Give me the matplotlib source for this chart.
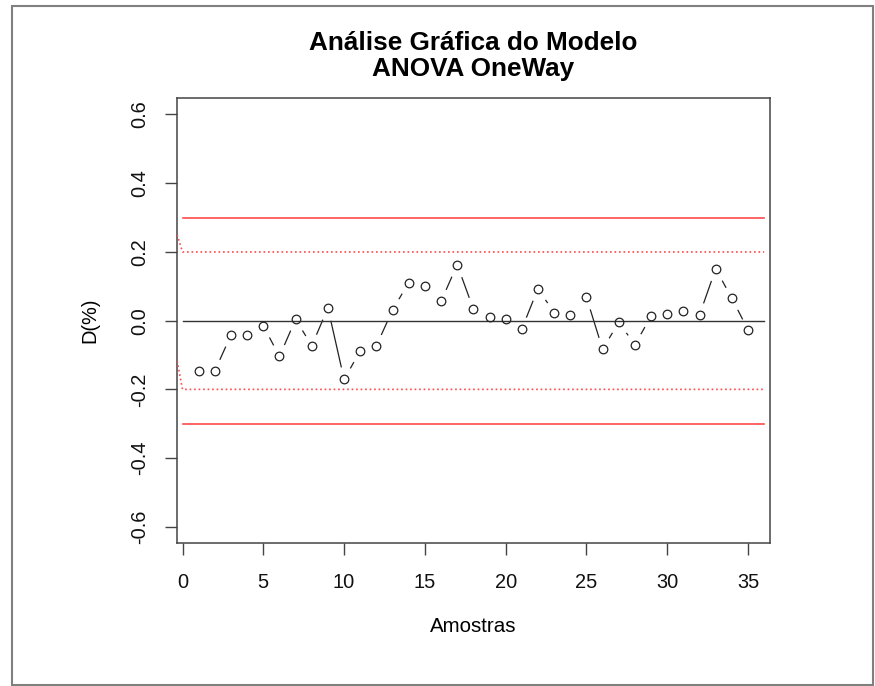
import numpy as np
import matplotlib.pyplot as plt
from matplotlib.patches import Rectangle

plt.rcParams['font.family'] = ['Liberation Sans', 'DejaVu Sans']
plt.rcParams['axes.unicode_minus'] = False

# amostras e desvios D(%)
amostras = list(range(1, 36))
desvios = [-0.146, -0.146, -0.042, -0.042, -0.015, -0.104, 0.004, -0.073,
           0.037, -0.171, -0.088, -0.073, 0.031, 0.111, 0.102, 0.056,
           0.163, 0.034, 0.010, 0.004, -0.024, 0.093, 0.023, 0.017,
           0.068, -0.083, -0.005, -0.070, 0.013, 0.019, 0.027, 0.017,
           0.151, 0.065, -0.027]

# limites de controle
lim_x = [0, 36]
lim_sup = [0.3, 0.3]
lim_inf = [-0.3, -0.3]
alerta_x = [-1, 0, 36]
alerta_sup = [0.35, 0.2, 0.2]
alerta_inf = [0.05, -0.2, -0.2]
centro = [0, 0]

xticks = [0, 5, 10, 15, 20, 25, 30, 35]
yticks = [-0.6, -0.4, -0.2, 0.0, 0.2, 0.4, 0.6]

fig = plt.figure(figsize=(8.75, 6.86), dpi=100)
ax = fig.add_axes([176.7 / 875, 1 - 543.3 / 686, 593.3 / 875, 445.3 / 686])

vermelho = '#ff4a4a'

# linha tipo "b": segmentos com folga em volta dos pontos
ax.plot(amostras, desvios, color='#222222', lw=0.9, zorder=2)
ax.plot(amostras, desvios, linestyle='none', marker='o', markersize=17,
        markerfacecolor='white', markeredgecolor='white', zorder=3)

ax.plot(lim_x, lim_sup, color=vermelho, lw=1.2, zorder=4)
ax.plot(lim_x, lim_inf, color=vermelho, lw=1.2, zorder=4)
ax.plot(alerta_x, alerta_sup, color=vermelho, lw=1.2, linestyle=(0, (1, 1.7)), zorder=4)
ax.plot(alerta_x, alerta_inf, color=vermelho, lw=1.2, linestyle=(0, (1, 1.7)), zorder=4)
ax.plot(lim_x, centro, color='#333333', lw=1.0, zorder=4)

ax.plot(amostras, desvios, linestyle='none', marker='o', markersize=6.2,
        markerfacecolor='none', markeredgecolor='#222222',
        markeredgewidth=0.9, zorder=5)

ax.set_xlim(-0.36, 36.36)
ax.set_ylim(-0.648, 0.648)
ax.set_xticks(xticks)
ax.set_yticks(yticks)
ax.set_yticklabels(['%.1f' % v for v in yticks])

for lado in ax.spines.values():
    lado.set_color('#444444')
    lado.set_linewidth(1.1)

ax.tick_params(axis='both', direction='out', length=8.5, width=1.0,
               color='#444444', labelsize=14.4, labelcolor='#111111')
ax.tick_params(axis='x', pad=13)
ax.tick_params(axis='y', pad=11)
for rot in ax.get_yticklabels():
    rot.set_rotation(90)
    rot.set_va('center')
    rot.set_ha('right')

ax.set_xlabel('Amostras', fontsize=14.8, va='center')
ax.xaxis.set_label_coords(0.5, -(626 - 543.3) / 445.3)
ax.set_ylabel('D(%)', fontsize=14.4, ha='center', va='center')
ax.yaxis.set_label_coords(-(176.7 - 90) / 593.3, 0.5)

xc = (176.7 + 770) / 2 / 875
fig.text(xc, 1 - 43 / 686, 'Análise Gráfica do Modelo', ha='center',
         va='center', fontsize=18.8, fontweight='bold')
fig.text(xc, 1 - 69 / 686, 'ANOVA OneWay', ha='center',
         va='center', fontsize=18.8, fontweight='bold')

# moldura da figura
fig.patches.append(Rectangle((12 / 875, 1 / 686), 861 / 875, 679 / 686,
                             transform=fig.transFigure, fill=False,
                             edgecolor='#808080', lw=1.5))

plt.savefig('out.png', dpi=100)
